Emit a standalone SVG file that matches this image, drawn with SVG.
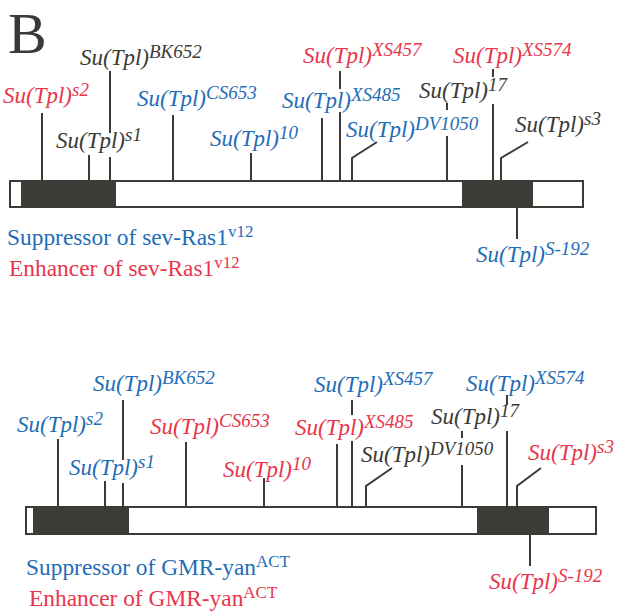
<svg xmlns="http://www.w3.org/2000/svg" width="618" height="615" viewBox="0 0 618 615">
<style>
text{font-family:"Liberation Serif","Times New Roman",serif}
.lb{font-style:italic;font-size:23px}
.sup{font-size:19px}
.lg{font-size:23.4px}
.lgs{font-size:17px}
.k{fill:#3a3a36}
.b{fill:#1f6db6}
.r{fill:#e8354a}
.bar{fill:#fff;stroke:#3a3a36;stroke-width:2}
.blk{fill:#3d3d37}
.cn path{fill:none;stroke:#3a3a36;stroke-width:2}
</style>
<text x="8" y="53" font-size="58" class="k">B</text>

<g id="chrom-top">
<rect class="bar" x="10" y="181" width="573" height="26"/>
<rect class="blk" x="21" y="182" width="95" height="24"/>
<rect class="blk" x="462" y="182" width="71" height="24"/>
</g>
<g id="chrom-bottom">
<rect class="bar" x="26" y="507" width="570" height="27"/>
<rect class="blk" x="33" y="508" width="96" height="25"/>
<rect class="blk" x="477" y="508" width="72" height="25"/>
</g>

<g id="connectors" class="cn">
<path d="M42 113V181M89 155V181M110 71V133M110 157V181M173 115V181M251 153V181M322 118V181M340 71V89M340 112V181M352 181V158L377 142M447 103V110M447 136V181M493 69V77M493 104V181M501 181V158L528 142M517 207V239"/>
<path d="M58 439V507M105 481V507M123 400V460M123 483V507M186 442V507M264 478V507M337 444V507M352 400V415M352 441V507M366 507V486L392 468M462 431V438M462 465V507M507 395V405M507 431V507M517 507V486L541 468M530 534V566"/>
</g>

<g id="top-s2"><text class="lb r" x="3" y="103">Su(Tpl)<tspan class="sup" dy="-7">s2</tspan></text></g>
<g id="top-BK652"><text class="lb k" x="80" y="65">Su(Tpl)<tspan class="sup" dy="-7">BK652</tspan></text></g>
<g id="top-s1"><text class="lb k" x="56" y="148">Su(Tpl)<tspan class="sup" dy="-7">s1</tspan></text></g>
<g id="top-CS653"><text class="lb b" x="137" y="106">Su(Tpl)<tspan class="sup" dy="-7">CS653</tspan></text></g>
<g id="top-10"><text class="lb b" x="210" y="146">Su(Tpl)<tspan class="sup" dy="-7">10</tspan></text></g>
<g id="top-XS485"><text class="lb b" x="282" y="108">Su(Tpl)<tspan class="sup" dy="-7">XS485</tspan></text></g>
<g id="top-XS457"><text class="lb r" x="303" y="63">Su(Tpl)<tspan class="sup" dy="-7">XS457</tspan></text></g>
<g id="top-DV1050"><text class="lb b" x="346" y="137">Su(Tpl)<tspan class="sup" dy="-7">DV1050</tspan></text></g>
<g id="top-17"><text class="lb k" x="419" y="98">Su(Tpl)<tspan class="sup" dy="-7">17</tspan></text></g>
<g id="top-XS574"><text class="lb r" x="453" y="63">Su(Tpl)<tspan class="sup" dy="-7">XS574</tspan></text></g>
<g id="top-s3"><text class="lb k" x="515" y="132">Su(Tpl)<tspan class="sup" dy="-7">s3</tspan></text></g>
<g id="top-S-192"><text class="lb b" x="476" y="262">Su(Tpl)<tspan class="sup" dy="-7">S-192</tspan></text></g>

<g id="legend-top">
<text class="lg b" x="7" y="245">Suppressor of sev-Ras1<tspan class="lgs" dy="-8">v12</tspan></text>
<text class="lg r" x="9" y="276">Enhancer of sev-Ras1<tspan class="lgs" dy="-8">v12</tspan></text>
</g>

<g id="bot-s2"><text class="lb b" x="17" y="432">Su(Tpl)<tspan class="sup" dy="-7">s2</tspan></text></g>
<g id="bot-BK652"><text class="lb b" x="93" y="391">Su(Tpl)<tspan class="sup" dy="-7">BK652</tspan></text></g>
<g id="bot-s1"><text class="lb b" x="69" y="475">Su(Tpl)<tspan class="sup" dy="-7">s1</tspan></text></g>
<g id="bot-CS653"><text class="lb r" x="150" y="434">Su(Tpl)<tspan class="sup" dy="-7">CS653</tspan></text></g>
<g id="bot-10"><text class="lb r" x="223" y="477">Su(Tpl)<tspan class="sup" dy="-7">10</tspan></text></g>
<g id="bot-XS485"><text class="lb r" x="295" y="435">Su(Tpl)<tspan class="sup" dy="-7">XS485</tspan></text></g>
<g id="bot-XS457"><text class="lb b" x="314" y="392">Su(Tpl)<tspan class="sup" dy="-7">XS457</tspan></text></g>
<g id="bot-DV1050"><text class="lb k" x="361" y="462">Su(Tpl)<tspan class="sup" dy="-7">DV1050</tspan></text></g>
<g id="bot-17"><text class="lb k" x="431" y="424">Su(Tpl)<tspan class="sup" dy="-7">17</tspan></text></g>
<g id="bot-XS574"><text class="lb b" x="466" y="391">Su(Tpl)<tspan class="sup" dy="-7">XS574</tspan></text></g>
<g id="bot-s3"><text class="lb r" x="528" y="460">Su(Tpl)<tspan class="sup" dy="-7">s3</tspan></text></g>
<g id="bot-S-192"><text class="lb r" x="489" y="589">Su(Tpl)<tspan class="sup" dy="-7">S-192</tspan></text></g>

<g id="legend-bottom">
<text class="lg b" x="26" y="575">Suppressor of GMR-yan<tspan class="lgs" dy="-8">ACT</tspan></text>
<text class="lg r" x="29" y="606">Enhancer of GMR-yan<tspan class="lgs" dy="-8">ACT</tspan></text>
</g>
</svg>
